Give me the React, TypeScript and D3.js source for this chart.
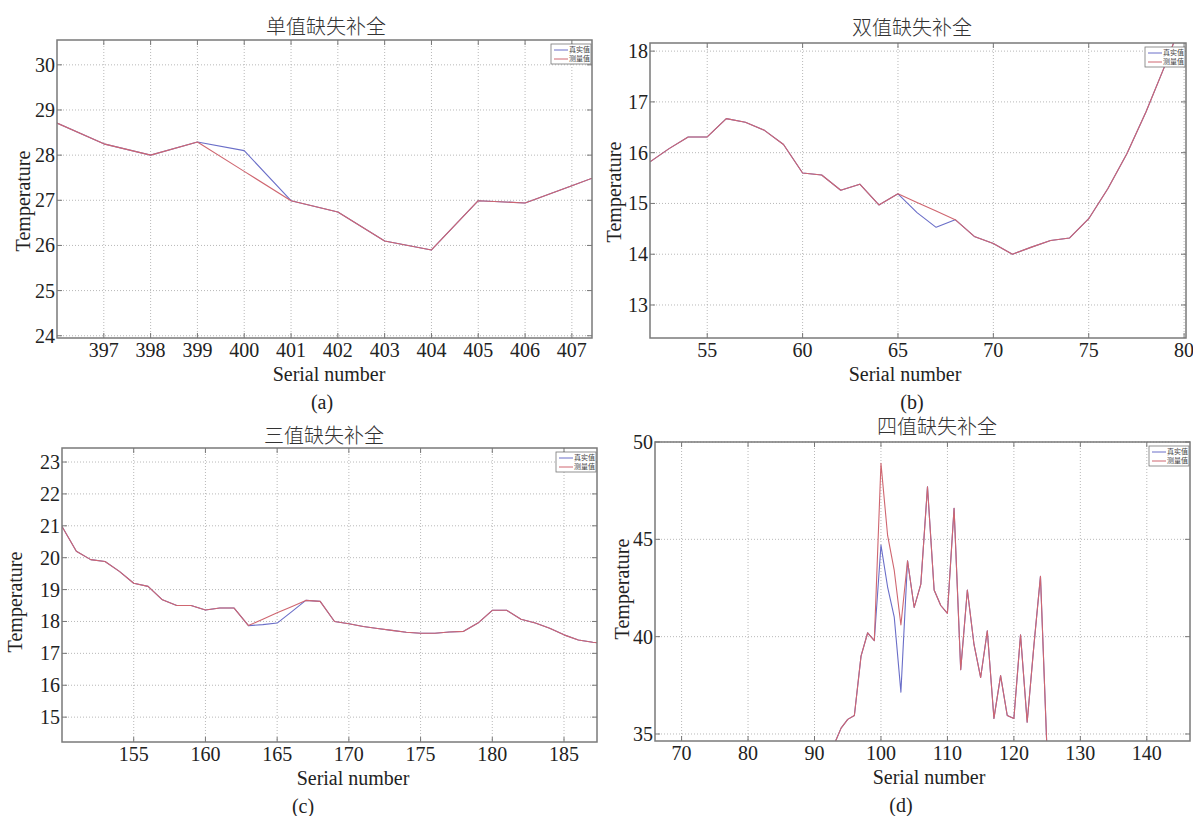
import React from 'react';
import * as d3 from 'd3';

// ---- data ----
const aSerial = [396, 397, 398, 399, 400, 401, 402, 403, 404, 405, 406, 407, 408];
const aTrue = [28.71, 28.25, 28.0, 28.29, 28.1, 26.99, 26.74, 26.1, 25.9, 26.99, 26.94, 27.32, 27.71];
const aMeasured = [28.71, 28.25, 28.0, 28.29, 27.64, 26.99, 26.74, 26.1, 25.9, 26.99, 26.94, 27.32, 27.71];
const aXTicks = [397, 398, 399, 400, 401, 402, 403, 404, 405, 406, 407];
const aYTicks = [24, 25, 26, 27, 28, 29, 30];

const bSerial = [52, 53, 54, 55, 56, 57, 58, 59, 60, 61, 62, 63, 64, 65, 66, 67, 68, 69, 70, 71, 72, 73, 74, 75, 76, 77, 78, 79, 80];
const bTrue = [15.82, 16.08, 16.31, 16.31, 16.67, 16.6, 16.44, 16.16, 15.6, 15.56, 15.26, 15.38, 14.97, 15.19, 14.82, 14.53, 14.68, 14.35, 14.21, 14.0, 14.14, 14.27, 14.32, 14.7, 15.29, 15.98, 16.8, 17.72, 18.7];
const bMeasured = [15.82, 16.08, 16.31, 16.31, 16.67, 16.6, 16.44, 16.16, 15.6, 15.56, 15.26, 15.38, 14.97, 15.19, 15.02, 14.85, 14.68, 14.35, 14.21, 14.0, 14.14, 14.27, 14.32, 14.7, 15.29, 15.98, 16.8, 17.72, 18.7];
const bXTicks = [55, 60, 65, 70, 75, 80];
const bYTicks = [13, 14, 15, 16, 17, 18];

const cSerial = [150, 151, 152, 153, 154, 155, 156, 157, 158, 159, 160, 161, 162, 163, 164, 165, 166, 167, 168, 169, 170, 171, 172, 173, 174, 175, 176, 177, 178, 179, 180, 181, 182, 183, 184, 185, 186, 187, 188];
const cTrue = [20.98, 20.2, 19.94, 19.88, 19.57, 19.2, 19.1, 18.68, 18.5, 18.5, 18.36, 18.42, 18.42, 17.87, 17.9, 17.95, 18.3, 18.66, 18.63, 18.0, 17.93, 17.84, 17.78, 17.72, 17.66, 17.63, 17.63, 17.67, 17.69, 17.95, 18.35, 18.35, 18.07, 17.95, 17.79, 17.58, 17.42, 17.35, 17.3];
const cMeasured = [20.98, 20.2, 19.94, 19.88, 19.57, 19.2, 19.1, 18.68, 18.5, 18.5, 18.36, 18.42, 18.42, 17.87, 18.07, 18.27, 18.46, 18.66, 18.63, 18.0, 17.93, 17.84, 17.78, 17.72, 17.66, 17.63, 17.63, 17.67, 17.69, 17.95, 18.35, 18.35, 18.07, 17.95, 17.79, 17.58, 17.42, 17.35, 17.3];
const cXTicks = [155, 160, 165, 170, 175, 180, 185];
const cYTicks = [15, 16, 17, 18, 19, 20, 21, 22, 23];

const dSerial = [92, 93, 94, 95, 96, 97, 98, 99, 100, 101, 102, 103, 104, 105, 106, 107, 108, 109, 110, 111, 112, 113, 114, 115, 116, 117, 118, 119, 120, 121, 122, 123, 124, 125];
const dTrue = [33.8, 34.5, 35.3, 35.75, 35.95, 39.0, 40.2, 39.8, 44.7, 42.55, 41.0, 37.15, 43.9, 41.5, 42.7, 47.7, 42.4, 41.6, 41.2, 46.6, 38.3, 42.4, 39.6, 37.9, 40.3, 35.8, 38.0, 35.95, 35.8, 40.1, 35.6, 39.5, 43.1, 34.0];
const dMeasured = [33.8, 34.5, 35.3, 35.75, 35.95, 39.0, 40.2, 39.8, 48.9, 45.2, 43.4, 40.6, 43.9, 41.5, 42.7, 47.7, 42.4, 41.6, 41.2, 46.6, 38.3, 42.4, 39.6, 37.9, 40.3, 35.8, 38.0, 35.95, 35.8, 40.1, 35.6, 39.5, 43.1, 34.0];
const dXTicks = [70, 80, 90, 100, 110, 120, 130, 140];
const dYTicks = [35, 40, 45, 50];

const seriesNames = ['真实值', '测量值'];

const BLUE = '#6a6ec8';
const RED = '#cf6670';
const SERIF = '"Liberation Serif", "DejaVu Serif", serif';
const CJK = '"Noto Sans CJK SC", sans-serif';

type PanelProps = {
  id: string;
  title: string;
  tag: string;
  serial: number[];
  truth: number[];
  measured: number[];
  xDomain: [number, number];
  yDomain: [number, number];
  xTicks: number[];
  yTicks: number[];
  box: { left: number; top: number; right: number; bottom: number };
  titleX: number;
  titleY: number;
  xLabelX: number;
  tagX: number;
  yLabelX: number;
  yLabelY: number;
};

const Panel = (p: PanelProps) => {
  const { box } = p;
  const x = d3.scaleLinear().domain(p.xDomain).range([box.left, box.right]);
  const y = d3.scaleLinear().domain(p.yDomain).range([box.bottom, box.top]);
  const line = d3
    .line<number>()
    .x((_, i) => x(p.serial[i]))
    .y(d => y(d));

  const tickLen = 5;
  const legX = box.right - 41;
  const legY = box.top + 4;

  return (
    <g>
      <defs>
        <clipPath id={`clip-${p.id}`}>
          <rect x={box.left} y={box.top} width={box.right - box.left} height={box.bottom - box.top} />
        </clipPath>
      </defs>

      {/* grid */}
      {p.xTicks.map(t => (
        <line key={`gx${t}`} x1={x(t)} x2={x(t)} y1={box.top} y2={box.bottom}
          stroke="#b0b0b0" strokeWidth={0.9} strokeDasharray="1,2" />
      ))}
      {p.yTicks.map(t => (
        <line key={`gy${t}`} x1={box.left} x2={box.right} y1={y(t)} y2={y(t)}
          stroke="#b0b0b0" strokeWidth={0.9} strokeDasharray="1,2" />
      ))}

      {/* series: true values first, measured drawn on top */}
      <g clipPath={`url(#clip-${p.id})`} fill="none" strokeWidth={1.1} strokeLinejoin="round">
        <path d={line(p.truth) || ''} stroke={BLUE} />
        <path d={line(p.measured) || ''} stroke={RED} />
      </g>

      {/* ticks */}
      {p.xTicks.map(t => (
        <g key={`tx${t}`} stroke="#777" strokeWidth={1}>
          <line x1={x(t)} x2={x(t)} y1={box.bottom} y2={box.bottom - tickLen} />
          <line x1={x(t)} x2={x(t)} y1={box.top} y2={box.top + tickLen} />
        </g>
      ))}
      {p.yTicks.map(t => (
        <g key={`ty${t}`} stroke="#777" strokeWidth={1}>
          <line x1={box.left} x2={box.left + tickLen} y1={y(t)} y2={y(t)} />
          <line x1={box.right} x2={box.right - tickLen} y1={y(t)} y2={y(t)} />
        </g>
      ))}

      <rect x={box.left} y={box.top} width={box.right - box.left} height={box.bottom - box.top}
        fill="none" stroke="#7a7a7a" strokeWidth={1.5} />

      {/* tick labels */}
      {p.xTicks.map(t => (
        <text key={`lx${t}`} x={x(t)} y={box.bottom + 19} textAnchor="middle"
          fontFamily={SERIF} fontSize={20} fill="#222">{t}</text>
      ))}
      {p.yTicks.map(t => (
        <text key={`ly${t}`} x={box.left - 2} y={y(t)} dy="0.35em" textAnchor="end"
          fontFamily={SERIF} fontSize={20} fill="#222">{t}</text>
      ))}

      {/* legend */}
      <rect x={legX} y={legY} width={40} height={20} fill="#fff" stroke="#777" strokeWidth={0.8} />
      {seriesNames.map((name, i) => (
        <g key={name}>
          <line x1={legX + 3} x2={legX + 17} y1={legY + 6 + i * 9} y2={legY + 6 + i * 9}
            stroke={i === 0 ? BLUE : RED} strokeWidth={1} />
          <text x={legX + 18} y={legY + 6 + i * 9} dy="0.35em" fontFamily={CJK} fontSize={7} fill="#444">{name}</text>
        </g>
      ))}

      {/* titles and labels */}
      <text x={p.titleX} y={p.titleY} textAnchor="middle" fontFamily={CJK} fontWeight={300} fontSize={20} fill="#333">{p.title}</text>
      <text x={p.xLabelX} y={box.bottom + 43} textAnchor="middle" fontFamily={SERIF} fontSize={20} fill="#222">Serial number</text>
      <text x={p.tagX} y={box.bottom + 71} textAnchor="middle" fontFamily={SERIF} fontSize={20} fill="#222">{p.tag}</text>
      <text transform={`translate(${p.yLabelX},${p.yLabelY}) rotate(-90)`} textAnchor="middle" dy="0.35em"
        fontFamily={SERIF} fontSize={20} fill="#222">Temperature</text>
    </g>
  );
};

export default function App() {
  return (
    <div style={{ position: 'absolute', left: 0, top: 0, background: '#fff' }}>
      <svg width={1193} height={816} style={{ display: 'block' }}>
        <rect width={1193} height={816} fill="#fff" />
        <Panel id="a" title="单值缺失补全" tag="(a)" serial={aSerial} truth={aTrue} measured={aMeasured}
          xDomain={[396, 407.43]} yDomain={[23.95, 30.55]} xTicks={aXTicks} yTicks={aYTicks}
          box={{ left: 57, top: 40, right: 592, bottom: 338 }}
          titleX={326} titleY={34} xLabelX={329} tagX={322} yLabelX={23} yLabelY={201} />
        <Panel id="b" title="双值缺失补全" tag="(b)" serial={bSerial} truth={bTrue} measured={bMeasured}
          xDomain={[52, 80.1]} yDomain={[12.35, 18.16]} xTicks={bXTicks} yTicks={bYTicks}
          box={{ left: 650, top: 43, right: 1186, bottom: 338 }}
          titleX={912} titleY={35} xLabelX={905} tagX={912} yLabelX={614} yLabelY={192} />
        <Panel id="c" title="三值缺失补全" tag="(c)" serial={cSerial} truth={cTrue} measured={cMeasured}
          xDomain={[150, 187.3]} yDomain={[14.22, 23.44]} xTicks={cXTicks} yTicks={cYTicks}
          box={{ left: 62, top: 448, right: 597, bottom: 742 }}
          titleX={324} titleY={443} xLabelX={353} tagX={303} yLabelX={15} yLabelY={602} />
        <Panel id="d" title="四值缺失补全" tag="(d)" serial={dSerial} truth={dTrue} measured={dMeasured}
          xDomain={[66, 146.5]} yDomain={[34.64, 50]} xTicks={dXTicks} yTicks={dYTicks}
          box={{ left: 655, top: 442, right: 1190, bottom: 741 }}
          titleX={937} titleY={434} xLabelX={929} tagX={901} yLabelX={622} yLabelY={589} />
      </svg>
    </div>
  );
}
